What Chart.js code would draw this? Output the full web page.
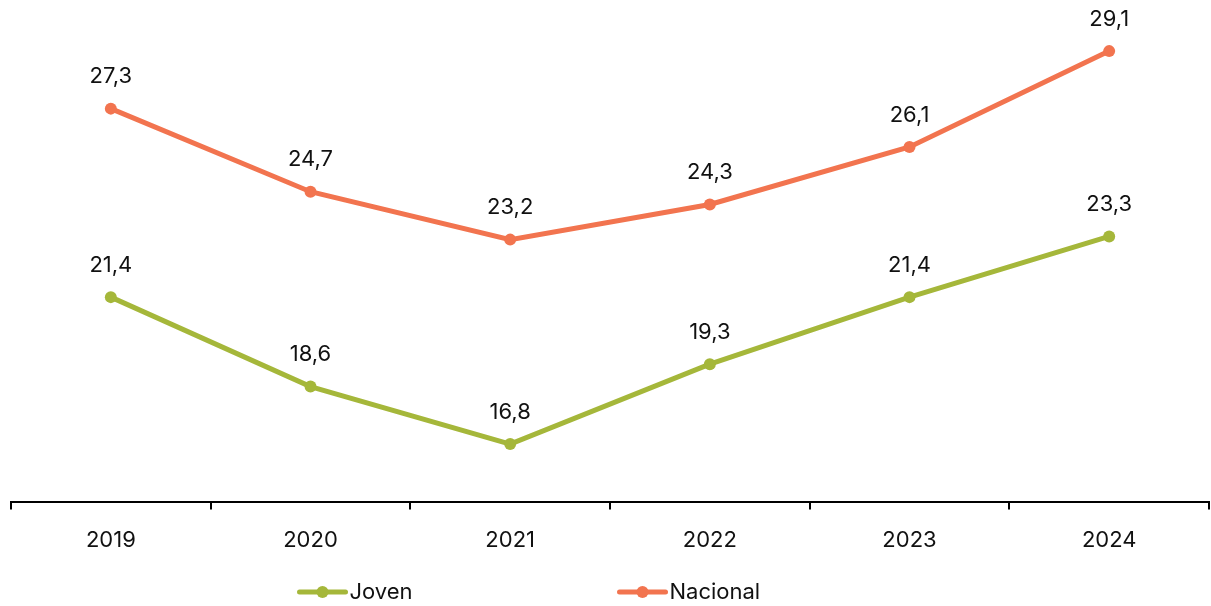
<!DOCTYPE html>
<html>
<head>
<meta charset="utf-8">
<script src="https://cdn.jsdelivr.net/npm/chart.js@4.4.1/dist/chart.umd.min.js"></script>
<style>
  html, body { margin: 0; padding: 0; background: #fff; }
  #wrap { width: 1211px; height: 606px; }
</style>
</head>
<body>
<div id="wrap"><canvas id="chart"></canvas></div>
<script>
// Data
const years = ["2019", "2020", "2021", "2022", "2023", "2024"];
const joven = [21.4, 18.6, 16.8, 19.3, 21.4, 23.3];
const nacional = [27.3, 24.7, 23.2, 24.3, 26.1, 29.1];
const seriesNames = ["Joven", "Nacional"];

const green = "#a5b73a";
const orange = "#f2744f";
const fontFamily = "Inter, 'Open Sans', sans-serif";

// Value labels above each point (comma decimal)
const valueLabels = {
  id: "valueLabels",
  afterDatasetsDraw(chart) {
    const ctx = chart.ctx;
    ctx.save();
    ctx.font = "22px " + fontFamily;
    ctx.fillStyle = "#111";
    ctx.textAlign = "center";
    ctx.textBaseline = "middle";
    chart.data.datasets.forEach((ds, i) => {
      chart.getDatasetMeta(i).data.forEach((pt, j) => {
        const txt = ds.data[j].toFixed(1).replace(".", ",");
        ctx.fillText(txt, pt.x, pt.y - 32);
      });
    });
    ctx.restore();
  }
};

// Legend with line + dot markers, spaced like the original
const lineLegend = {
  id: "lineLegend",
  afterDraw(chart) {
    const ctx = chart.ctx;
    const y = chart.height - 14;
    let x = chart.width / 2 - 308;
    ctx.save();
    ctx.font = "22px " + fontFamily;
    ctx.textBaseline = "middle";
    ctx.textAlign = "left";
    chart.data.datasets.forEach(ds => {
      ctx.strokeStyle = ds.borderColor;
      ctx.lineWidth = 5;
      ctx.lineCap = "round";
      ctx.beginPath();
      ctx.moveTo(x + 2, y);
      ctx.lineTo(x + 48, y);
      ctx.stroke();
      ctx.fillStyle = ds.borderColor;
      ctx.beginPath();
      ctx.arc(x + 25, y, 6, 0, Math.PI * 2);
      ctx.fill();
      ctx.fillStyle = "#111";
      ctx.fillText(ds.label, x + 52, y);
      x += 320;
    });
    ctx.restore();
  }
};

new Chart(document.getElementById("chart"), {
  type: "line",
  data: {
    labels: years,
    datasets: [
      { label: seriesNames[0], data: joven, borderColor: green, backgroundColor: green },
      { label: seriesNames[1], data: nacional, borderColor: orange, backgroundColor: orange }
    ]
  },
  options: {
    responsive: true,
    maintainAspectRatio: false,
    animation: false,
    layout: { autoPadding: false, padding: { top: 0, left: 11, right: 2, bottom: 34 } },
    elements: {
      line: { borderWidth: 5, tension: 0 },
      point: { radius: 6, hoverRadius: 6, borderWidth: 0 }
    },
    plugins: {
      legend: { display: false },
      tooltip: { enabled: false }
    },
    scales: {
      x: {
        offset: true,
        grid: { offset: true, drawOnChartArea: false, drawTicks: true, tickLength: 8, color: "#000", lineWidth: 2 },
        border: { display: true, color: "#000", width: 2 },
        ticks: { color: "#111", font: { family: fontFamily, size: 22 }, padding: 18 }
      },
      y: {
        display: false,
        min: 15,
        max: 30.7
      }
    }
  },
  plugins: [valueLabels, lineLegend]
});
</script>
</body>
</html>
